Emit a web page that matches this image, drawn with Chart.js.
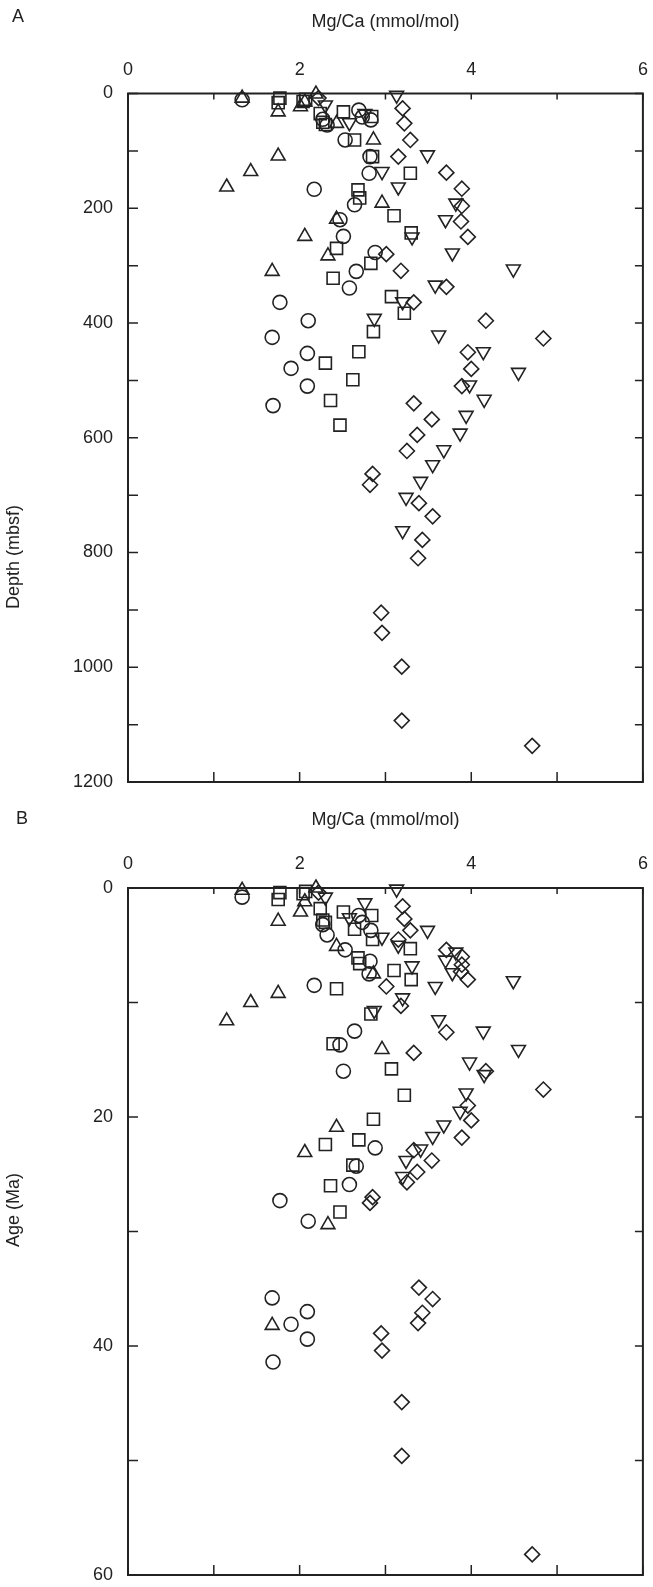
<!DOCTYPE html>
<html>
<head>
<meta charset="utf-8">
<script src="https://cdn.jsdelivr.net/npm/chart.js@4.4.1/dist/chart.umd.min.js"></script>
<style>
  body { margin: 0; background: #fff; }
  canvas { display: block; }
</style>
</head>
<body>
<canvas id="chartA" width="653" height="800"></canvas>
<canvas id="chartB" width="653" height="787"></canvas>
<script>
// tick labels shown on the axes
const mgcaLabels = [0, 2, 4, 6];
const depthLabels = [0, 200, 400, 600, 800, 1000, 1200];
const ageLabels = [0, 20, 40, 60];

// circles
const circleMgCa = [1.33, 2.27, 2.32, 2.69, 2.73, 2.83, 2.53, 2.82, 2.81, 2.17, 2.64, 2.47, 2.51, 2.88, 2.66, 2.58, 1.77, 2.10, 1.68, 2.09, 1.90, 2.09, 1.69];
const circleDepth = [11, 45, 55, 29, 41, 46, 81, 110, 139, 167, 194, 220, 249, 277, 310, 339, 364, 396, 425, 453, 479, 510, 544];
const circleAge = [0.8, 3.2, 4.1, 2.4, 3.0, 3.7, 5.4, 6.4, 7.5, 8.5, 12.5, 13.7, 16.0, 22.7, 24.3, 25.9, 27.3, 29.1, 35.8, 37.0, 38.1, 39.4, 41.4];

// squares
const squareMgCa = [1.77, 1.75, 2.04, 2.07, 2.24, 2.27, 2.30, 2.51, 2.84, 2.64, 2.85, 2.68, 2.70, 3.29, 3.10, 3.30, 2.43, 2.83, 2.39, 3.07, 3.22, 2.86, 2.69, 2.30, 2.62, 2.36, 2.47];
const squareDepth = [8, 16, 14, 10, 35, 50, 54, 32, 40, 81, 110, 168, 182, 139, 213, 243, 270, 296, 322, 354, 383, 415, 450, 470, 499, 535, 578];
const squareAge = [0.4, 1.0, 0.5, 0.3, 1.8, 2.8, 3.0, 2.1, 2.4, 3.6, 4.5, 6.1, 6.6, 5.3, 7.2, 8.0, 8.8, 11.0, 13.6, 15.8, 18.1, 20.2, 22.0, 22.4, 24.2, 26.0, 28.3];

// triangles (point up)
const triUpMgCa = [1.33, 1.75, 2.01, 2.19, 2.06, 2.43, 2.86, 1.75, 1.43, 1.15, 2.96, 2.43, 2.06, 2.33, 1.68];
const triUpDepth = [8, 32, 23, 1, 15, 52, 81, 109, 136, 163, 191, 219, 249, 283, 310];
const triUpAge = [0.2, 2.9, 2.1, 0.0, 1.2, 5.1, 7.5, 9.2, 10.0, 11.6, 14.1, 20.9, 23.1, 29.4, 38.2];

// triangles (point down)
const triDownMgCa = [3.13, 2.30, 2.76, 2.58, 3.49, 2.96, 3.15, 3.82, 3.70, 3.31, 3.78, 4.49, 3.58, 3.20, 2.87, 3.62, 4.14, 4.55, 3.98, 4.15, 3.94, 3.87, 3.68, 3.55, 3.41, 3.24, 3.20];
const triDownDepth = [3, 20, 35, 51, 107, 136, 163, 191, 220, 250, 278, 306, 334, 363, 392, 421, 450, 486, 508, 533, 561, 592, 621, 647, 676, 704, 762];
const triDownAge = [0.1, 0.8, 1.3, 2.6, 3.7, 4.3, 5.0, 5.6, 6.3, 6.8, 7.4, 8.1, 8.6, 9.6, 10.7, 11.5, 12.5, 14.1, 15.2, 16.3, 17.9, 19.5, 20.7, 21.7, 22.8, 23.8, 25.2];

// diamonds
const diamondMgCa = [2.22, 3.20, 3.22, 3.29, 3.15, 3.71, 3.89, 3.89, 3.88, 3.96, 3.01, 3.18, 3.71, 3.33, 4.17, 4.84, 3.96, 4.00, 3.89, 3.33, 3.54, 3.37, 3.25, 2.85, 2.82, 3.39, 3.55, 3.43, 3.38, 2.95, 2.96, 3.19, 3.19, 4.71];
const diamondDepth = [8, 26, 52, 81, 110, 138, 166, 196, 223, 250, 280, 309, 337, 364, 396, 427, 451, 480, 510, 540, 568, 595, 623, 663, 682, 714, 737, 778, 810, 905, 940, 999, 1093, 1137];
const diamondAge = [0.4, 1.6, 2.7, 3.7, 4.5, 5.4, 6.0, 6.7, 7.3, 8.0, 8.6, 10.3, 12.6, 14.4, 16.0, 17.6, 19.0, 20.3, 21.8, 22.9, 23.8, 24.8, 25.7, 27.0, 27.5, 34.9, 35.9, 37.1, 38.0, 38.9, 40.4, 44.9, 49.6, 58.2];

const ink = '#222';
const font = '"Liberation Sans", Arial, Helvetica, sans-serif';

const series = [
  { style: 'circle', radius: 7, rotation: 0, x: circleMgCa, depth: circleDepth, age: circleAge },
  { style: 'rect', radius: 8.5, rotation: 0, x: squareMgCa, depth: squareDepth, age: squareAge },
  { style: 'triangle', radius: 8, rotation: 0, x: triUpMgCa, depth: triUpDepth, age: triUpAge },
  { style: 'triangle', radius: 8, rotation: 180, x: triDownMgCa, depth: triDownDepth, age: triDownAge },
  { style: 'rectRot', radius: 7.5, rotation: 0, x: diamondMgCa, depth: diamondDepth, age: diamondAge }
];

// box round the plot, inward ticks on all four sides, panel letter and y title
const framePlugin = {
  id: 'frame',
  beforeDatasetsDraw(chart, args, opts) {
    const { ctx, chartArea: a, scales: { x, y } } = chart;
    ctx.save();
    ctx.strokeStyle = ink;
    ctx.lineWidth = 2;
    ctx.strokeRect(a.left, a.top, a.right - a.left, a.bottom - a.top);
    ctx.lineWidth = 1.5;
    ctx.beginPath();
    x.ticks.forEach(t => {
      const px = x.getPixelForValue(t.value);
      ctx.moveTo(px, a.top); ctx.lineTo(px, a.top + 6);
      ctx.moveTo(px, a.bottom); ctx.lineTo(px, a.bottom - 10);
    });
    y.ticks.forEach(t => {
      const py = y.getPixelForValue(t.value);
      ctx.moveTo(a.left, py); ctx.lineTo(a.left + 10, py);
      ctx.moveTo(a.right, py); ctx.lineTo(a.right - 8, py);
    });
    ctx.stroke();

    ctx.fillStyle = ink;
    ctx.font = '18px ' + font;
    ctx.textBaseline = 'middle';
    ctx.textAlign = 'left';
    ctx.fillText(opts.letter, opts.letterX, opts.letterY);
    ctx.translate(opts.titleX, opts.titleY);
    ctx.rotate(-Math.PI / 2);
    ctx.textAlign = 'center';
    ctx.fillText(opts.yTitle, 0, 0);
    ctx.restore();
  }
};

function makeChart(id, key, yMax, yStep, yLabels, frame, layout) {
  const datasets = series.map(s => ({
    data: s.x.map((v, i) => ({ x: v, y: s[key][i] })),
    pointStyle: s.style,
    pointRadius: s.radius,
    pointHoverRadius: s.radius,
    rotation: s.rotation,
    pointBorderWidth: 1.6,
    borderColor: ink,
    backgroundColor: 'rgba(0,0,0,0)',
    clip: false
  }));

  return new Chart(document.getElementById(id), {
    type: 'scatter',
    data: { datasets },
    options: {
      responsive: false,
      animation: false,
      events: [],
      layout: { padding: { left: 0, top: 0, right: 8, bottom: layout.bottom } },
      plugins: { legend: { display: false }, tooltip: { enabled: false }, frame },
      scales: {
        x: {
          type: 'linear',
          position: 'top',
          min: 0, max: 6,
          border: { display: false },
          grid: { display: false, drawTicks: false },
          ticks: {
            stepSize: 1, autoSkip: false, maxRotation: 0,
            padding: layout.tickPad,
            color: ink, font: { family: font, size: 18 },
            callback: v => mgcaLabels.includes(v) ? String(v) : ''
          },
          title: {
            display: true, text: 'Mg/Ca (mmol/mol)', color: ink,
            font: { family: font, size: 18 },
            padding: { top: layout.titlePad, bottom: 0 }
          },
          afterFit: s => {
            s.height = layout.top;
            s.paddingLeft = 0;
            s.paddingRight = 0;
          }
        },
        y: {
          type: 'linear',
          reverse: true,
          min: 0, max: yMax,
          border: { display: false },
          grid: { display: false, drawTicks: false },
          ticks: {
            stepSize: yStep, autoSkip: false, padding: 15,
            color: ink, font: { family: font, size: 18 },
            callback: v => yLabels.includes(v) ? String(v) : ''
          },
          afterFit: s => {
            s.width = 128;
            s.paddingTop = 0;
            s.paddingBottom = 0;
          }
        }
      }
    },
    plugins: [framePlugin]
  });
}

makeChart('chartA', 'depth', 1200, 100, depthLabels,
  { letter: 'A', letterX: 12, letterY: 17, yTitle: 'Depth (mbsf)', titleX: 14, titleY: 557 },
  { top: 93.5, bottom: 18, tickPad: 13, titlePad: 11 });

makeChart('chartB', 'age', 60, 10, ageLabels,
  { letter: 'B', letterX: 16, letterY: 19, yTitle: 'Age (Ma)', titleX: 14, titleY: 410 },
  { top: 88, bottom: 12, tickPad: 13, titlePad: 9 });
</script>
</body>
</html>
